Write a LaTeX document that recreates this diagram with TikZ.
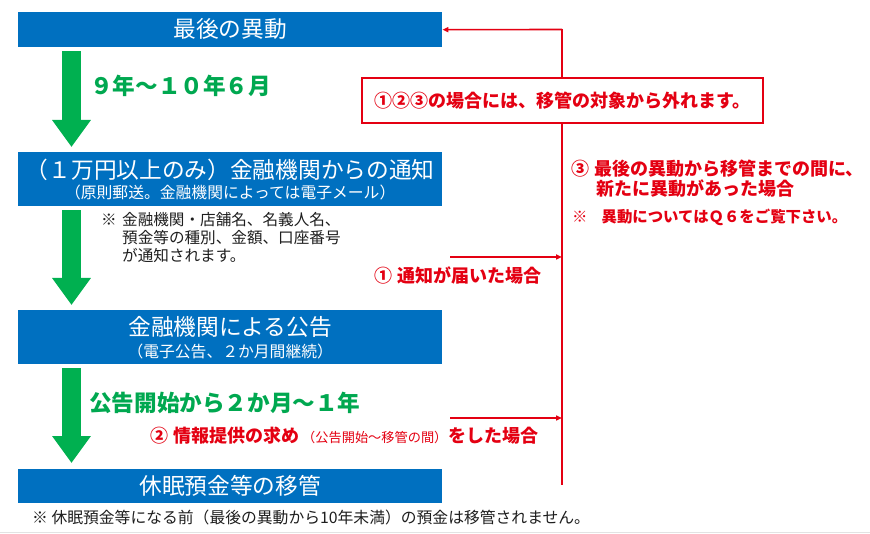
\documentclass[tikz,border=0pt]{standalone}
\usepackage{fontspec}
\setmainfont{Noto Sans CJK JP}
\usetikzlibrary{arrows.meta,calc}
\definecolor{boxblue}{RGB}{0,112,192}
\definecolor{arrgreen}{RGB}{0,176,80}
\definecolor{txtgreen}{RGB}{0,168,80}
\definecolor{myred}{RGB}{228,0,18}
\definecolor{notegray}{RGB}{30,30,30}
\newcommand{\fs}[1]{\fontsize{#1}{#1}\selectfont}
\begin{document}
\begin{tikzpicture}[x=1pt,y=-1pt,
  bluebox/.style={fill=boxblue,draw=none,minimum width=424pt,inner sep=0pt,anchor=north west},
  boxtitle/.style={text=white,inner sep=0pt,font=\fs{22.7}},
  boxsub/.style={text=white,inner sep=0pt,font=\fs{15.8}},
  garrow/.style={draw=arrgreen,line width=19pt,-{Triangle[length=27pt,width=37pt]}},
  glabel/.style={text=txtgreen,inner sep=0pt,anchor=west,font=\bfseries\fs{22.6}},
  rlabel/.style={text=myred,inner sep=0pt,anchor=west,font=\bfseries\fs{18}},
  rline/.style={draw=myred,line width=1.6pt},
  rarrow/.style={rline,-{Triangle[length=6pt,width=5pt]}},
  notetext/.style={text=notegray,inner sep=0pt,anchor=west,font=\fs{15.6}},
]
\useasboundingbox (0,0) rectangle (870,534);
\fill[white] (0,0) rectangle (870,534);
\draw[gray!22,line width=1.5pt] (0,532.5) -- (870,532.5);

% blue boxes
\node[bluebox,minimum height=35pt] (b1) at (18,12) {};
\node[boxtitle] at ($(b1.center)+(0,-0.5)$) {最後の異動};

\node[bluebox,minimum height=54pt] (b2) at (18,152) {};
\node[boxtitle] at ($(b2.center)+(0,-9.5)$) {（１万円以上のみ）金融機関からの通知};
\node[boxsub] at ($(b2.center)+(0,13)$) {（原則郵送。金融機関によっては電子メール）};

\node[bluebox,minimum height=54pt] (b3) at (18,310) {};
\node[boxtitle] at ($(b3.center)+(0,-10)$) {金融機関による公告};
\node[boxsub] at ($(b3.center)+(0,14)$) {（電子公告、２か月間継続）};

\node[bluebox,minimum height=34pt] (b4) at (18,469) {};
\node[boxtitle] at (b4.center) {休眠預金等の移管};

% green arrows
\draw[garrow,shorten <=4pt,shorten >=5pt] ([xshift=53.5pt]b1.south west) -- ([xshift=53.5pt]b2.north west);
\draw[garrow,shorten <=4pt,shorten >=5pt] ([xshift=53.5pt]b2.south west) -- ([xshift=53.5pt]b3.north west);
\draw[garrow,shorten <=4pt,shorten >=6pt] ([xshift=53.5pt]b3.south west) -- ([xshift=53.5pt]b4.north west);

\node[glabel] (g1) at (90,86) {９年～１０年６月};
\node[glabel] (g2) at (89,403) {公告開始から２か月～１年};

% note under box 2
\node[notetext] (note) at (101,239.5) {\fontsize{15.6}{17}\selectfont
  \begin{tabular}{@{}l@{}l@{}}
  \makebox[21pt][l]{※}&金融機関・店舗名、名義人名、\\
  &預金等の種別、金額、口座番号\\
  &が通知されます。
  \end{tabular}};

% red connectors
\coordinate (rtop) at (562,29.5);
\coordinate (rbot) at (562,485);
\draw[rline] (rtop) -- (rbot);
\draw[rarrow] (rtop) -- (b1.east);

\node[draw=myred,line width=1.5pt,fill=white,minimum width=401pt,minimum height=45pt,inner sep=0pt,
      text=myred,font=\bfseries\fs{18}] (rbox) at (562.5,100.5) {①②③の場合には、移管の対象から外れます。};

\coordinate (a1) at (450,257);
\draw[rarrow] (a1) -- (a1 -| rtop);
\node[rlabel] (r1) at (374,275) {①\hspace{5pt}通知が届いた場合};

\coordinate (a2) at (450,418);
\draw[rarrow] (a2) -- (a2 -| rtop);
\node[rlabel] (r2) at (150,436) {②\hspace{5pt}情報提供の求め\hspace{3pt}{\mdseries\fs{13.2}（公告開始～移管の間）}\hspace{1pt}をした場合};

\node[rlabel] (r3a) at (571,169) {③\hspace{5pt}最後の異動から移管までの間に、};
\node[rlabel] (r3b) at (596,189) {新たに異動があった場合};
\node[rlabel,font=\bfseries\fs{15.4}] (r3c) at (572,217) {※\hspace{14pt}異動についてはＱ６をご覧下さい。};

% footnote
\node[notetext,font=\fs{15.8}] (foot) at (32,517) {※ 休眠預金等になる前（最後の異動から10年未満）の預金は移管されません。};
\end{tikzpicture}
\end{document}
